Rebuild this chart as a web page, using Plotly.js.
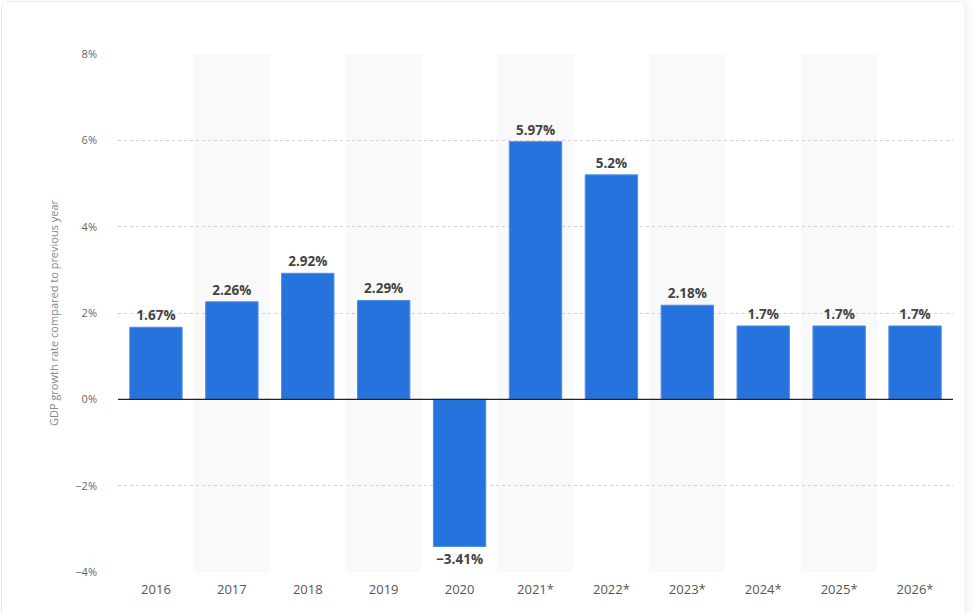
<!DOCTYPE html>
<html>
<head>
<meta charset="utf-8">
<script src="https://cdn.plot.ly/plotly-3.0.1.min.js"></script>
<style>
  html, body { margin: 0; padding: 0; background: #ffffff; }
  #card { position: absolute; left: 1px; top: 1px; width: 962px; height: 620px;
          border-left: 1px solid #e6e8ee; border-top: 1px solid #eceef3; border-radius: 6px;
          box-shadow: 4px 0 8px rgba(0,0,0,0.06); background: #fff; }
  #chart { position: absolute; left: 0; top: 0; width: 975px; height: 613px; }
</style>
</head>
<body>
<div id="card"></div>
<div id="chart"></div>
<script>
const years = ['2016', '2017', '2018', '2019', '2020', '2021*', '2022*', '2023*', '2024*', '2025*', '2026*'];
const growth = [1.67, 2.26, 2.92, 2.29, -3.41, 5.97, 5.2, 2.18, 1.7, 1.7, 1.7];
const yTicks = [-4, -2, 0, 2, 4, 6, 8];

const labels = growth.map(v => (v < 0 ? '\u2212' + Math.abs(v) : String(v)) + '%');
const yTickText = yTicks.map(v => (v < 0 ? '\u2212' + Math.abs(v) : String(v)) + '%');

const bands = [];
years.forEach((y, i) => {
  if (i % 2 === 1) {
    bands.push({ type: 'rect', xref: 'x', yref: 'paper', x0: i - 0.5, x1: i + 0.5, y0: 0, y1: 1,
      fillcolor: '#f9f9fa', line: { width: 0 }, layer: 'below' });
  }
});
bands.push({ type: 'line', xref: 'paper', yref: 'y', x0: 0, x1: 1, y0: 0, y1: 0,
  line: { color: '#222', width: 1.3 }, layer: 'above' });

const trace = {
  type: 'bar', x: years, y: growth,
  marker: { color: '#2673dd', line: { color: '#4f8fe6', width: 1 } },
  text: labels, textposition: 'outside', cliponaxis: false,
  textfont: { family: 'Open Sans, sans-serif', size: 13.5, color: '#444444', weight: 700 },
  hoverinfo: 'x+y'
};

const layout = {
  width: 975, height: 613,
  margin: { l: 118, r: 22, t: 54, b: 41 },
  paper_bgcolor: 'rgba(0,0,0,0)', plot_bgcolor: 'rgba(0,0,0,0)',
  bargap: 0.31,
  showlegend: false,
  shapes: bands,
  xaxis: {
    type: 'category', showgrid: false, zeroline: false, showline: false,
    ticks: '', tickfont: { family: 'Open Sans, sans-serif', size: 13, color: '#555' },
    ticklabelstandoff: 8
  },
  yaxis: {
    range: [-4, 8], tickvals: yTicks, ticktext: yTickText,
    showgrid: true, gridcolor: '#d0d0d0', griddash: 'dot', gridwidth: 1,
    zeroline: false, showline: false, ticks: '',
    tickfont: { family: 'Open Sans, sans-serif', size: 11, color: '#666' },
    ticklabelstandoff: 20,
    title: { text: 'GDP growth rate compared to previous year', standoff: 14,
      font: { family: 'Open Sans, sans-serif', size: 11, color: '#888' } }
  },
  font: { family: 'Open Sans, sans-serif' }
};

Plotly.newPlot('chart', [trace], layout, { displayModeBar: false, staticPlot: true });
</script>
</body>
</html>
